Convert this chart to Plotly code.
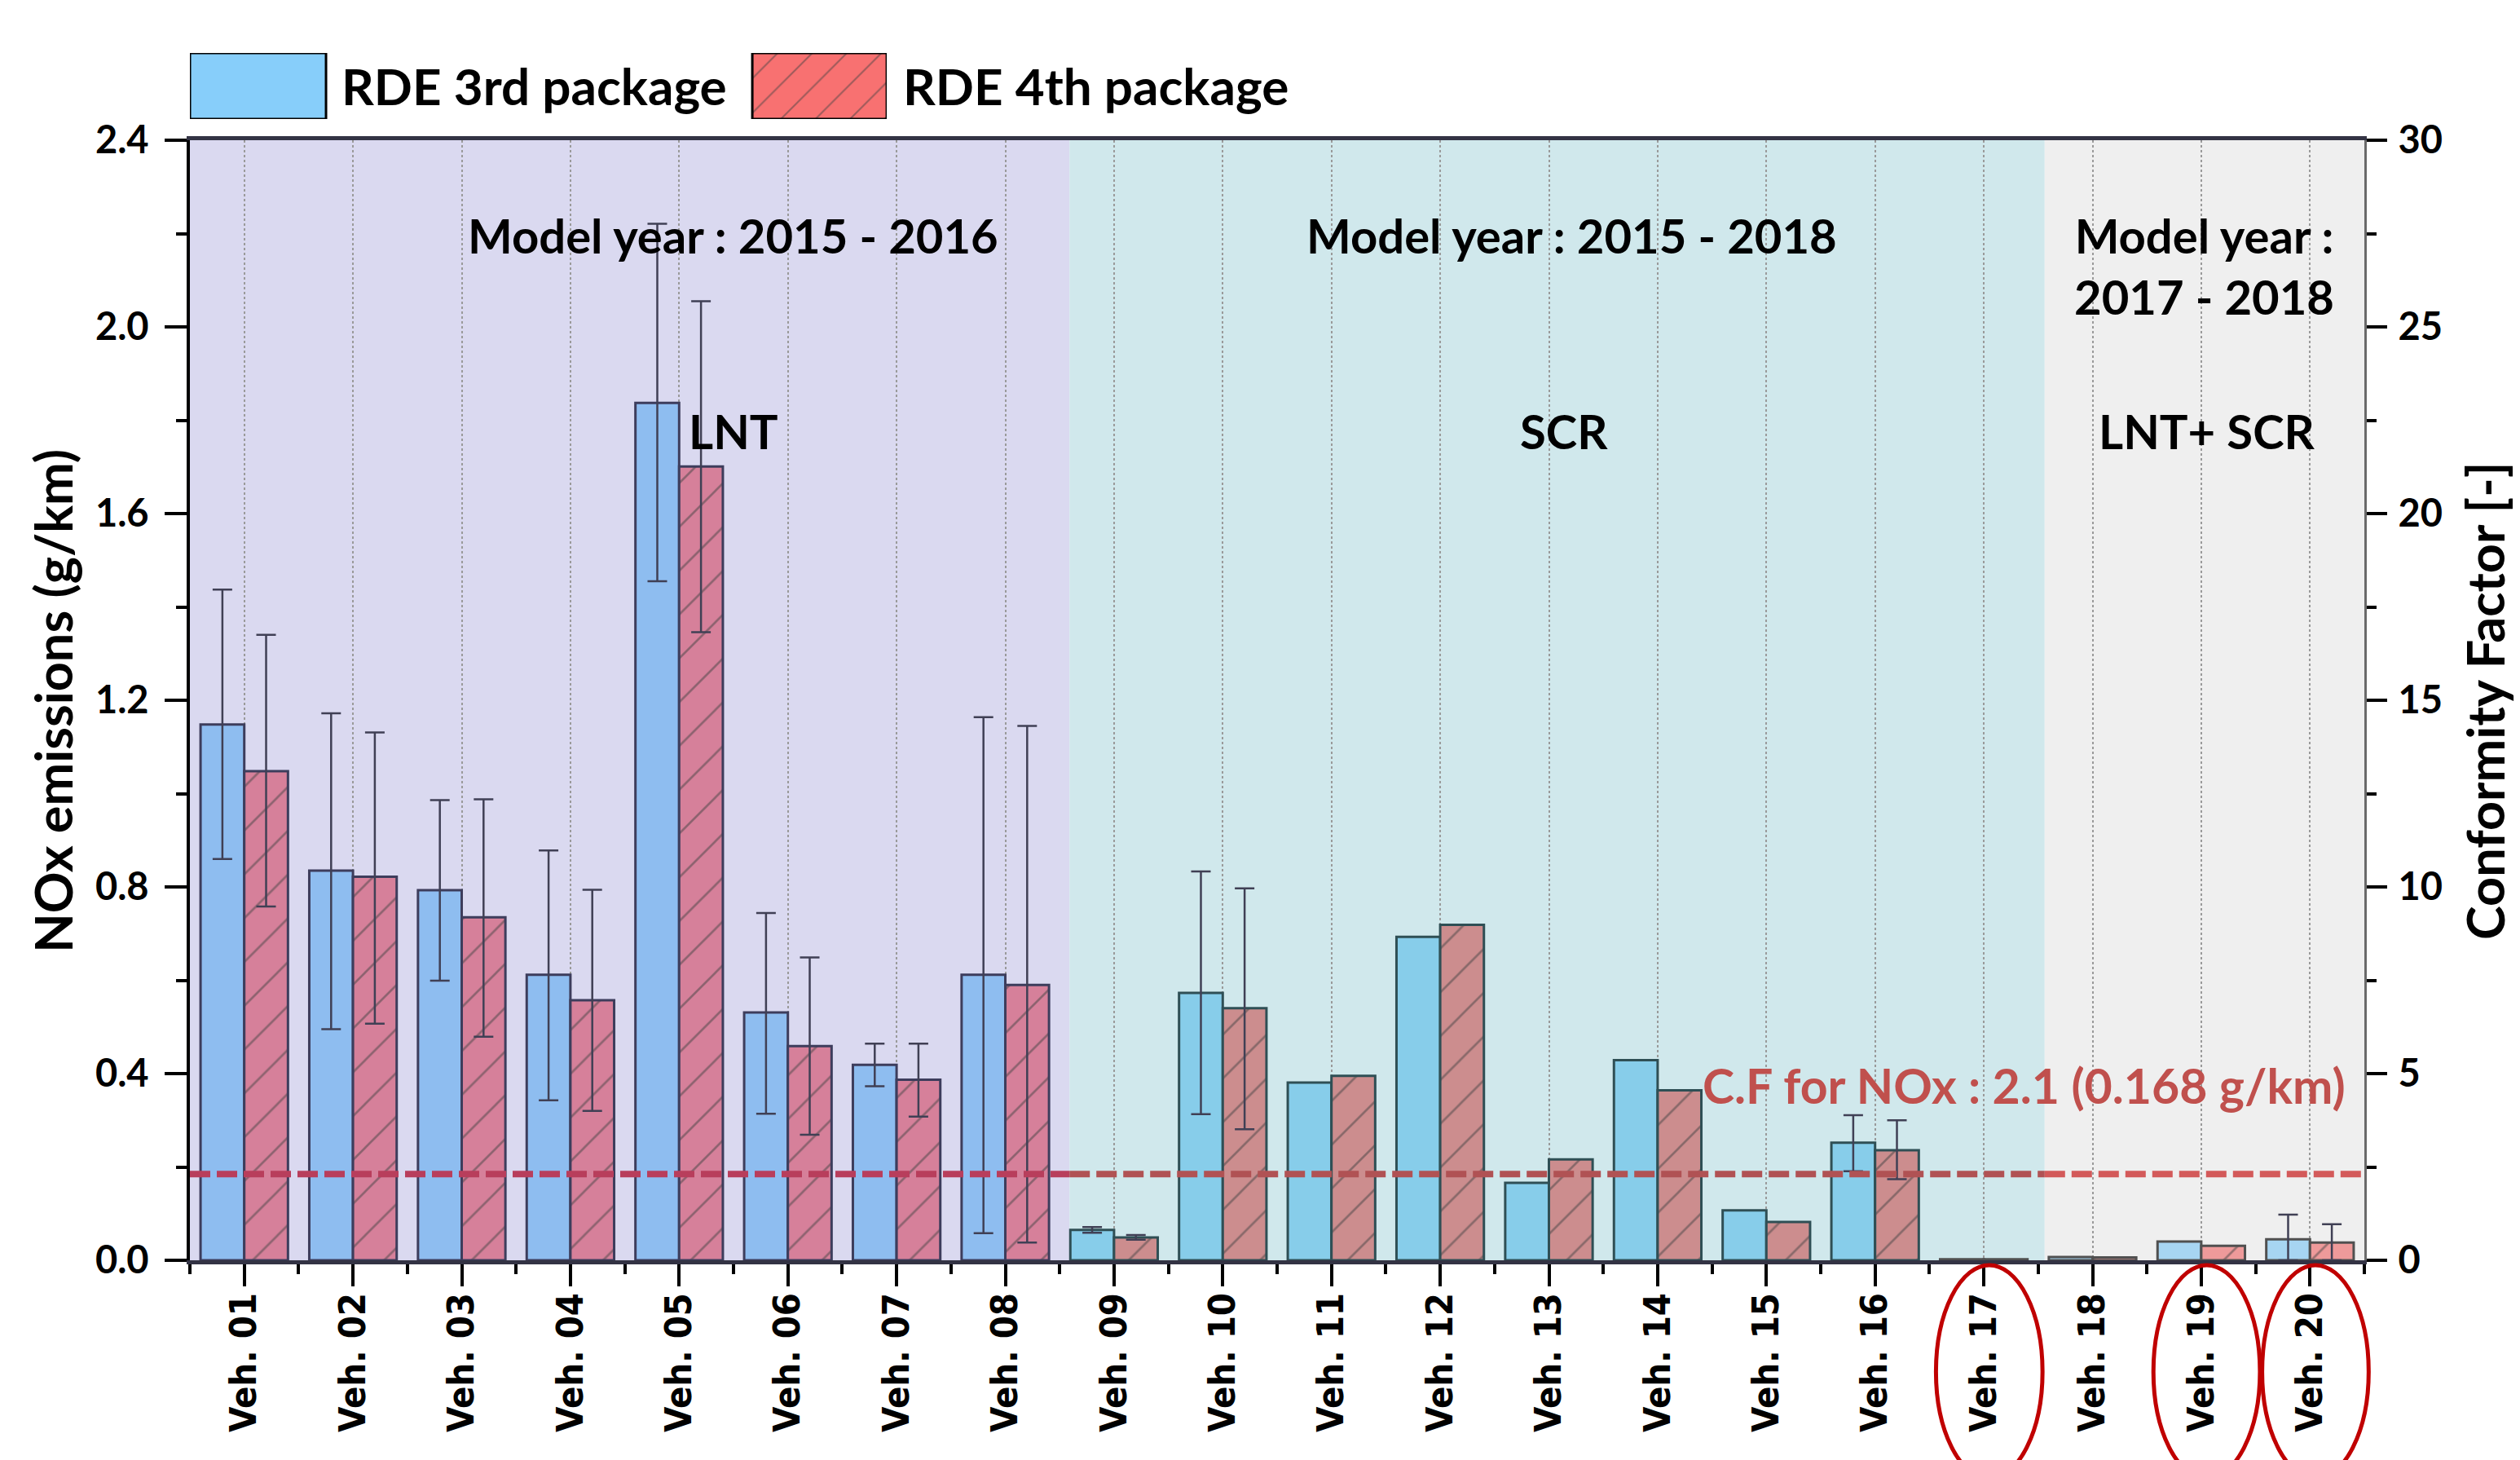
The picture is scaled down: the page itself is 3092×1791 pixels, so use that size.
import numpy as np
import plotly.graph_objects as go

# ---------------- data ----------------
vehicles = [f"Veh. {i:02d}" for i in range(1, 21)]

rde3 = [1.148, 0.835, 0.793, 0.612, 1.837, 0.531, 0.419, 0.612, 0.065, 0.573,
        0.381, 0.693, 0.166, 0.429, 0.107, 0.252, 0.002, 0.007, 0.040, 0.045]
rde3_upper = [1.437, 1.172, 0.986, 0.878, 2.221, 0.744, 0.464, 1.164, 0.071, 0.833,
              None, None, None, None, None, 0.311, None, None, None, 0.098]
rde3_lower = [0.860, 0.495, 0.599, 0.343, 1.455, 0.314, 0.373, 0.058, 0.059, 0.313,
              None, None, None, None, None, 0.191, None, None, None, 0.0]

rde4 = [1.048, 0.822, 0.735, 0.557, 1.701, 0.459, 0.387, 0.590, 0.049, 0.540,
        0.395, 0.719, 0.216, 0.364, 0.082, 0.236, 0.002, 0.006, 0.031, 0.038]
rde4_upper = [1.340, 1.131, 0.988, 0.794, 2.055, 0.649, 0.464, 1.145, 0.054, 0.797,
              None, None, None, None, None, 0.300, None, None, None, 0.0775]
rde4_lower = [0.758, 0.507, 0.479, 0.320, 1.346, 0.269, 0.308, 0.038, 0.044, 0.281,
              None, None, None, None, None, 0.174, None, None, None, 0.0]

# vehicle groups (region index per vehicle)
region_of = [0] * 8 + [1] * 8 + [2] * 4
region_edges = [-0.5, 7.59, 16.56, 19.5]
region_titles = ["Model year : 2015 - 2016", "Model year : 2015 - 2018",
                 "Model year :<br>2017 - 2018"]
region_title_x = [4.495, 12.21, 18.03]
region_title_y = [2.196, 2.196, 2.131]
tech_labels = ["LNT", "SCR", "LNT+ SCR"]
tech_x = [4.075, 12.14, 18.05]
tech_anchor = ["left", "center", "center"]
tech_y = 1.778

cf_level = 2.31          # conformity factor line (right axis)
cf_text = "C.F for NOx : 2.1 (0.168 g/km)"
highlighted = [16, 18, 19]   # Veh. 17, 19, 20

# ---------------- styles ----------------
region_bg = ["#DAD9F0", "#D0E8EC", "#EFEFEF"]
blue_cols = ["#8EBDF0", "#87CDEA", "#A7D5F2"]
red_cols = ["#D6809A", "#CC8D8E", "#EE9A9A"]
edge_cols = ["#3D3D5C", "#2F4F55", "#505050"]
cf_cols = ["#B83E5C", "#B05254", "#D35A5A"]
FONT = "Lato"

x = np.arange(len(vehicles))


def err(vals, up, lo):
    v = np.array(vals, dtype=float)
    u = np.array(up, dtype=float)
    l = np.array(lo, dtype=float)
    return u - v, v - l


p3, m3 = err(rde3, rde3_upper, rde3_lower)
p4, m4 = err(rde4, rde4_upper, rde4_lower)

fig = go.Figure()

errstyle = dict(type="data", symmetric=False, color="#404055", thickness=2.5, width=12)

fig.add_trace(go.Bar(
    x=x, y=rde3, name="RDE 3rd package", showlegend=False,
    marker=dict(color=[blue_cols[r] for r in region_of],
                line=dict(color=[edge_cols[r] for r in region_of], width=3)),
    error_y=dict(array=p3, arrayminus=m3, **errstyle),
))
fig.add_trace(go.Bar(
    x=x, y=rde4, name="RDE 4th package", showlegend=False,
    marker=dict(color=[red_cols[r] for r in region_of],
                line=dict(color=[edge_cols[r] for r in region_of], width=3),
                pattern=dict(shape="/", fillmode="overlay", size=38, solidity=0.07,
                             fgcolor=[edge_cols[r] for r in region_of])),
    error_y=dict(array=p4, arrayminus=m4, **errstyle),
))

# CF dashed line on right axis, segment per region
for k in range(3):
    fig.add_trace(go.Scatter(
        x=[region_edges[k], region_edges[k + 1]], y=[cf_level, cf_level],
        yaxis="y2", mode="lines", showlegend=False, hoverinfo="skip",
        line=dict(color=cf_cols[k], width=8, dash="25px,8px"),
    ))

# legend swatches (drawn on an auxiliary axis above the plot)
fig.add_trace(go.Bar(
    x=[316.5, 1005.5], y=[1, 1], width=[167, 165], xaxis="x3", yaxis="y3",
    showlegend=False, hoverinfo="skip",
    marker=dict(color=["#87CEFA", "#F87171"], line=dict(color="black", width=3),
                pattern=dict(shape=["", "/"], fillmode="overlay", size=30,
                             solidity=0.07, fgcolor="#222222")),
))

# region backgrounds
for k in range(3):
    fig.add_shape(type="rect", xref="x", yref="y domain",
                  x0=region_edges[k], x1=region_edges[k + 1], y0=0, y1=1,
                  fillcolor=region_bg[k], line=dict(width=0), layer="below")

# ellipses around highlighted labels
n = len(vehicles)
for i in highlighted:
    fig.add_shape(type="circle", xref="paper", yref="paper",
                  x0=(i + 0.06) / n, x1=(i + 1.04) / n, y0=-0.180, y1=-0.004,
                  line=dict(color="#C00000", width=5), layer="above")


def bold(size, color="black"):
    return dict(family=FONT, size=size, color=color, weight="bold")


ann = []
for k in range(3):
    ann.append(dict(x=region_title_x[k], y=region_title_y[k], xref="x", yref="y",
                    xanchor="center", yanchor="middle",
                    text=region_titles[k], showarrow=False, font=bold(58)))
    ann.append(dict(x=tech_x[k], y=tech_y, xref="x", yref="y", xanchor=tech_anchor[k],
                    yanchor="middle", text=tech_labels[k], showarrow=False, font=bold(58)))
ann.append(dict(x=19.34, y=0.3755, xref="x", yref="y", xanchor="right", yanchor="middle",
                text=cf_text, showarrow=False, font=bold(59, "#C0504D")))
ann.append(dict(x=-0.063, y=0.4617, xref="paper", yref="paper", textangle=-90,
                xanchor="center", yanchor="middle",
                text="NOx emissions (g/km)", showarrow=False, font=bold(63)))
ann.append(dict(x=1.0555, y=0.4617, xref="paper", yref="paper", textangle=-90,
                xanchor="center", yanchor="middle",
                text="Conformity Factor [-]", showarrow=False, font=bold(63)))
ann.append(dict(x=0.069, y=0.9694, xref="paper", yref="paper", xanchor="left",
                yanchor="middle", text="RDE 3rd package", showarrow=False, font=bold(62)))
ann.append(dict(x=0.3272, y=0.9694, xref="paper", yref="paper", xanchor="left",
                yanchor="middle", text="RDE 4th package", showarrow=False, font=bold(62)))

tickfont = bold(47)
main_dom = [0, 0.9246]

fig.update_layout(
    width=3092, height=1791,
    margin=dict(l=233, r=191, t=60, b=245, pad=0),
    paper_bgcolor="white", plot_bgcolor="white",
    barmode="group", bargap=0.196, bargroupgap=0,
    annotations=ann,
    xaxis=dict(
        range=[-0.5, n - 0.5], tickvals=x, ticktext=vehicles, tickangle=-90,
        tickfont=dict(family="DejaVu Sans Condensed, DejaVu Sans", size=45,
                      color="black", weight="bold"),
        ticks="outside", ticklen=27, tickwidth=4, tickcolor="black",
        ticklabelstandoff=-10,
        showline=True, linecolor="#333344", linewidth=5, mirror=True,
        showgrid=True, gridcolor="#9A9A9A", griddash="dot", gridwidth=2,
        zeroline=False, anchor="y",
        minor=dict(tickvals=np.arange(-0.5, n, 1.0), ticks="outside", ticklen=12,
                   tickwidth=4, tickcolor="black", showgrid=False),
    ),
    yaxis=dict(
        domain=main_dom, range=[0, 2.4], dtick=0.4, tick0=0, tickformat=".1f",
        tickfont=tickfont, ticks="outside", ticklen=27, tickwidth=4, tickcolor="black",
        ticklabelstandoff=10,
        showline=True, linecolor="black", linewidth=4, showgrid=False, zeroline=False,
        minor=dict(dtick=0.2, tick0=0, ticks="outside", ticklen=13, tickwidth=4,
                   tickcolor="black", showgrid=False),
    ),
    yaxis2=dict(
        domain=main_dom, overlaying="y", side="right", anchor="x",
        range=[0, 30], dtick=5, tick0=0, tickfont=tickfont,
        ticks="outside", ticklen=25, tickwidth=4, tickcolor="black",
        ticklabelstandoff=4,
        showline=True, linecolor="#6A6A6A", linewidth=3, showgrid=False, zeroline=False,
        minor=dict(dtick=2.5, tick0=0, ticks="outside", ticklen=12, tickwidth=4,
                   tickcolor="black", showgrid=False),
    ),
    xaxis3=dict(domain=[0, 0.3205], range=[233, 1088], anchor="y3", visible=False,
                fixedrange=True),
    yaxis3=dict(domain=[0.9421, 0.9966], range=[0, 1], anchor="x3", visible=False,
                fixedrange=True),
)

fig.write_html("out.html")
